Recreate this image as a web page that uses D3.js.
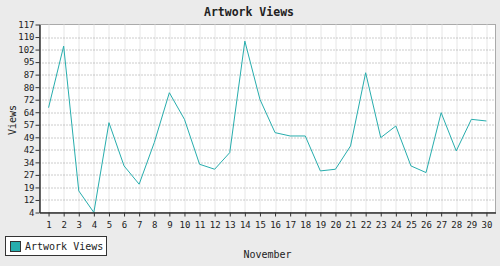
<!DOCTYPE html>
<html>
<head>
<meta charset="utf-8">
<script src="https://cdn.jsdelivr.net/npm/d3@7"></script>
<style>
  body { margin: 0; background: #ebebeb; }
  svg { display: block; }
  text { font-family: "DejaVu Sans Mono", monospace; fill: #222; }
</style>
</head>
<body>
<svg id="drawing_region"></svg>
<script>
// November days and daily views
const days = d3.range(1, 31);
const views = [67, 104, 17, 4, 58, 32, 21, 46, 76, 60,
               33, 30, 40, 107, 72, 52, 50, 50, 29, 30,
               44, 88, 49, 56, 32, 28, 64, 41, 60, 59];
const yTickLabels = ["4", "12", "19", "27", "34", "42", "49", "57",
                     "64", "72", "80", "87", "95", "102", "110", "117"];
const yMin = 4, yMax = 117;

const config = {
    width: 500,
    height: 266,
    margin: {top: 24.5, right: 4.5, bottom: 53.5, left: 39.5},
    title: "Artwork Views",
    xlabel: "November",
    ylabel: "Views",
    color: "#27adad"
};

const svg = d3.select('#drawing_region')
    .attr('width', config.width)
    .attr('height', config.height);

const inner_width = config.width - config.margin.left - config.margin.right;
const inner_height = config.height - config.margin.top - config.margin.bottom;

const chart = svg.append('g')
    .attr('transform', `translate(${config.margin.left}, ${config.margin.top})`);

const xscale = d3.scalePoint()
    .domain(days)
    .range([0, inner_width])
    .padding(0.6);

const yscale = d3.scaleLinear()
    .domain([yMin, yMax])
    .range([inner_height, 0]);

const yTicks = yTickLabels.map((d, i) => yMin + i * (yMax - yMin) / (yTickLabels.length - 1));

// plot background
chart.append('rect')
    .attr('width', inner_width)
    .attr('height', inner_height)
    .attr('fill', '#fff')
    .attr('stroke', '#aaa');

// vertical grid
chart.append('g').selectAll('line')
    .data(days)
    .join('line')
    .attr('x1', d => Math.round(xscale(d)) + 0.5)
    .attr('x2', d => Math.round(xscale(d)) + 0.5)
    .attr('y1', 0)
    .attr('y2', inner_height)
    .attr('stroke', '#e6e6e6');

// horizontal dotted grid
chart.append('g').selectAll('line')
    .data(yTicks.slice(1, -1))
    .join('line')
    .attr('x1', 0)
    .attr('x2', inner_width)
    .attr('y1', d => Math.round(yscale(d)) + 0.5)
    .attr('y2', d => Math.round(yscale(d)) + 0.5)
    .attr('stroke', '#999')
    .attr('stroke-dasharray', '1,2');

// line
chart.append('path')
    .datum(views)
    .attr('fill', 'none')
    .attr('stroke', config.color)
    .attr('stroke-width', 1)
    .attr('d', d3.line()
        .x((d, i) => xscale(days[i]))
        .y(d => yscale(d)));

// axes
const xaxis = d3.axisBottom(xscale).tickSize(4).tickSizeOuter(0);
const xaxis_group = chart.append('g')
    .attr('transform', `translate(0, ${inner_height})`)
    .call(xaxis);

const yaxis = d3.axisLeft(yscale)
    .tickValues(yTicks)
    .tickFormat((d, i) => yTickLabels[i])
    .tickSize(4)
    .tickSizeOuter(0);
const yaxis_group = chart.append('g').call(yaxis);

[xaxis_group, yaxis_group].forEach(g => {
    g.select('.domain').attr('stroke', '#333').attr('stroke-width', 1.5);
    g.selectAll('.tick line').attr('stroke', '#333');
    g.selectAll('.tick text')
        .attr('font-family', '"DejaVu Sans Mono", monospace')
        .attr('font-size', '9px')
        .attr('fill', '#222');
});
xaxis_group.selectAll('.tick text').attr('dy', '0.9em');
yaxis_group.selectAll('.tick text').attr('x', -5);

// title and labels
svg.append('text')
    .attr('x', 249)
    .attr('y', 16)
    .style('text-anchor', 'middle')
    .attr('font-size', '11.5px')
    .attr('font-weight', 'bold')
    .text(config.title);

svg.append('text')
    .attr('x', config.margin.left + inner_width / 2)
    .attr('y', 258)
    .style('text-anchor', 'middle')
    .attr('font-size', '10px')
    .text(config.xlabel);

svg.append('text')
    .attr('transform', 'rotate(-90)')
    .attr('x', -120)
    .attr('y', 16)
    .style('text-anchor', 'middle')
    .attr('font-size', '10px')
    .text(config.ylabel);

// legend
const legend = svg.append('g');
legend.append('rect')
    .attr('x', 5.5).attr('y', 236.5)
    .attr('width', 101).attr('height', 19)
    .attr('fill', '#fff')
    .attr('stroke', '#333');
legend.append('rect')
    .attr('x', 10.5).attr('y', 241.5)
    .attr('width', 10).attr('height', 10)
    .attr('fill', config.color)
    .attr('stroke', '#333');
legend.append('text')
    .attr('x', 25)
    .attr('y', 250)
    .attr('font-size', '10px')
    .text(config.title);
</script>
</body>
</html>
